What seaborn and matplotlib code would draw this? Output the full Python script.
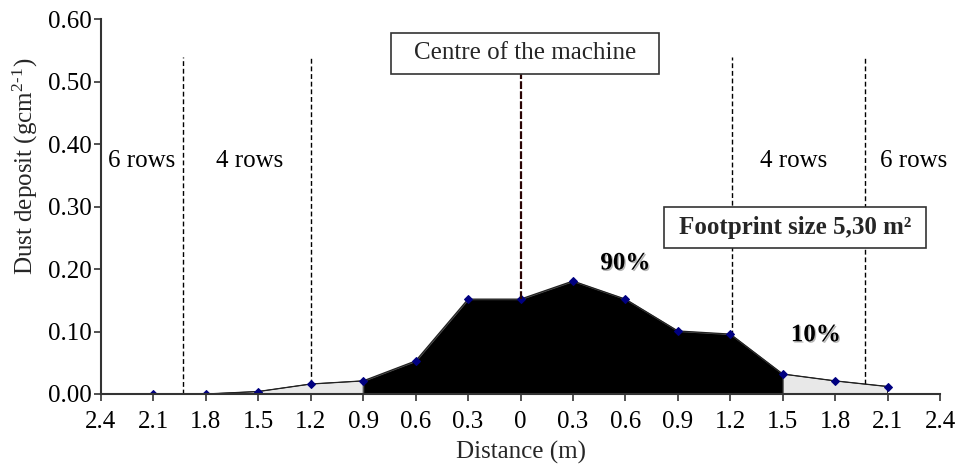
import numpy as np
import pandas as pd
import matplotlib
matplotlib.use("Agg")
import matplotlib.pyplot as plt
import matplotlib.patheffects as pe
from matplotlib.patches import Rectangle
import seaborn as sns

# ---- data ----
distance = [-2.1, -1.8, -1.5, -1.2, -0.9, -0.6, -0.3, 0.0, 0.3, 0.6, 0.9, 1.2, 1.5, 1.8, 2.1]
deposit = [0.0, 0.0, 0.004, 0.016, 0.021, 0.053, 0.152, 0.152, 0.181, 0.152, 0.101, 0.096, 0.032, 0.021, 0.012]
x_ticks = [-2.4, -2.1, -1.8, -1.5, -1.2, -0.9, -0.6, -0.3, 0.0, 0.3, 0.6, 0.9, 1.2, 1.5, 1.8, 2.1, 2.4]
x_tick_labels = ["2.4", "2.1", "1.8", "1.5", "1.2", "0.9", "0.6", "0.3", "0",
                 "0.3", "0.6", "0.9", "1.2", "1.5", "1.8", "2.1", "2.4"]
y_ticks = [0.0, 0.1, 0.2, 0.3, 0.4, 0.5, 0.6]
row_bounds = [-1.93, -1.2, 1.21, 1.97]
row_labels = ["6 rows", "4 rows", "4 rows", "6 rows"]
row_label_x = [-2.17, -1.55, 1.565, 2.25]
core_start, core_end = -0.9, 1.5

df = pd.DataFrame({"distance": distance, "deposit": deposit})

sns.set_theme(style="ticks")
plt.rcParams["font.family"] = ["Liberation Serif", "DejaVu Serif"]
plt.rcParams["mathtext.fontset"] = "stix"

FS = 18

fig = plt.figure(figsize=(9.64, 4.70), dpi=100)
ax = fig.add_axes([101 / 964, 1 - 394 / 470, 839 / 964, 374.5 / 470])

x = np.array(distance)
y = np.array(deposit)
outer = (x <= core_start) | (x >= core_end)
inner = (x >= core_start) & (x <= core_end)
ax.fill_between(x, 0, y, where=outer, facecolor="#e8e8e8", edgecolor="black", linewidth=0.6, zorder=2)
ax.fill_between(x, 0, y, where=inner, facecolor="black", edgecolor="#555555", linewidth=0.8, zorder=2)

sns.lineplot(data=df, x="distance", y="deposit", ax=ax, color="#222222", linewidth=0.9,
             marker="D", markersize=4, markerfacecolor="#000080", markeredgecolor="#000080",
             zorder=3)

# row boundary lines
bottoms = np.interp(row_bounds, x, y)
ax.vlines(row_bounds, bottoms, 0.54, colors="black", linewidth=1.0,
          linestyles=(0, (3.5, 2.0)), zorder=1)

for lx, lab in zip(row_label_x, row_labels):
    ax.text(lx, 0.373, lab, ha="center", va="center", fontsize=FS, color="black")

# centre of machine
centre_bottom = np.interp(0.0, x, y)
ax.vlines([0.0], centre_bottom, 0.513, colors="#2a0505", linewidth=1.6,
          linestyles=(0, (3.5, 1.0)), zorder=4)
ax.add_patch(Rectangle((0.3453, 0.8545), 0.3198, 0.1103, transform=ax.transAxes,
                       facecolor="white", edgecolor="#333333", linewidth=1.2, zorder=5,
                       clip_on=False))
ax.text(0.3453 + 0.3198 / 2, 0.8545 + 0.1103 / 2, "Centre of the machine",
        transform=ax.transAxes, ha="center", va="center", fontsize=FS, zorder=6)

# footprint box
ax.add_patch(Rectangle((0.671, 0.3899), 0.3123, 0.1102, transform=ax.transAxes,
                       facecolor="white", edgecolor="#333333", linewidth=1.2, zorder=5,
                       clip_on=False))
ax.text(0.671 + 0.3123 / 2, 0.3899 + 0.1102 / 2, "Footprint size 5,30 m²",
        transform=ax.transAxes, ha="center", va="center", fontsize=FS,
        fontweight="bold", zorder=6)

shadow = [pe.withSimplePatchShadow(offset=(1.0, -1.0), shadow_rgbFace="#999999", alpha=0.7)]
ax.text(0.60, 0.21, "90%", ha="center", va="center", fontsize=FS, fontweight="bold",
        color="black", path_effects=shadow, zorder=6)
ax.text(1.69, 0.095, "10%", ha="center", va="center", fontsize=FS, fontweight="bold",
        color="black", path_effects=shadow, zorder=6)

ax.set_xlim(-2.4, 2.4)
ax.set_ylim(0, 0.6)
ax.set_xticks(x_ticks)
ax.set_xticklabels(x_tick_labels)
ax.set_yticks(y_ticks)
ax.set_yticklabels([f"{v:.2f}" for v in y_ticks])
ax.tick_params(axis="both", labelsize=FS, length=5, width=1.2, color="#333333",
               direction="out", colors="black")
ax.tick_params(axis="x", pad=7)
ax.tick_params(axis="y", pad=2)
ax.set_xlabel("Distance (m)", fontsize=FS, labelpad=6)
ax.set_ylabel(r"Dust deposit (gcm$^{\mathregular{2\text{-}1}}$)", fontsize=FS, va="center")
ax.yaxis.set_label_coords(-0.0906, 0.609)

sns.despine(ax=ax)
for s in ["left", "bottom"]:
    ax.spines[s].set_color("#333333")
    ax.spines[s].set_linewidth(1.5)
    ax.spines[s].set_zorder(7)

fig.savefig("out.png", dpi=100)
